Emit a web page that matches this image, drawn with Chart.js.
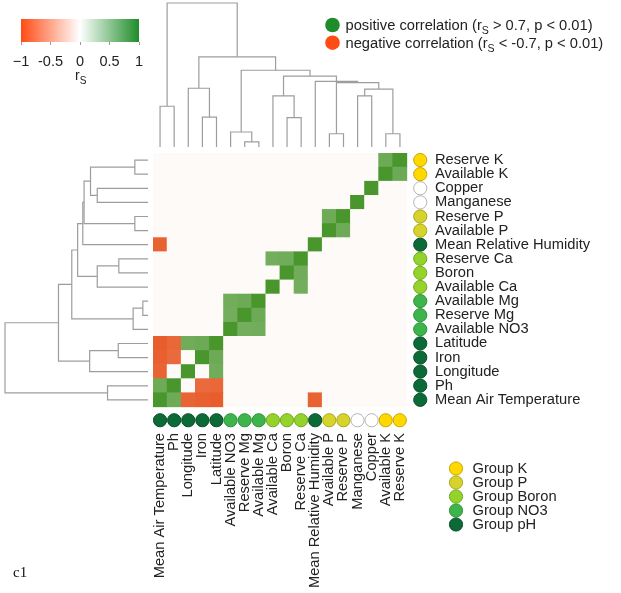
<!doctype html>
<html>
	<head>
		<meta charset="utf-8" />
		<title>Spearman correlation heatmap with dendrograms</title>
		<script src="https://cdn.jsdelivr.net/npm/chart.js@4.4.1/dist/chart.umd.min.js"></script>
		<style>
			html,
			body {
				margin: 0;
				padding: 0;
				background: #fff;
			}
			#page {
				position: relative;
				width: 621px;
				height: 593px;
				overflow: hidden;
			}
			canvas {
				position: absolute;
			}
			#heat { left: 0; top: 0; }
			#dendTop { left: 153px; top: 0; }
			#dendLeft { left: 0; top: 153px; }
			#scaleBar { left: 0; top: 0; }
		</style>
	</head>

	<body>
		<div id="page">
			<canvas id="heat" width="621" height="593"></canvas>
			<canvas id="dendTop" width="254" height="150"></canvas>
			<canvas id="dendLeft" width="153" height="254"></canvas>
			<canvas id="scaleBar" width="160" height="95"></canvas>
		</div>

		<script>
			const FONT = '"Liberation Sans", Arial, Helvetica, sans-serif';
			const TEXT_COLOR = "#222";
			const DEND_COLOR = "#9d9d9d";
			const LABEL_SIZE = 14.7;

			// variables in dendrogram leaf order, left to right along the columns
			const colNames = [
				"Mean Air Temperature", "Ph", "Longitude", "Iron", "Latitude",
				"Available NO3", "Reserve Mg", "Available Mg",
				"Available Ca", "Boron", "Reserve Ca",
				"Mean Relative Humidity", "Available P", "Reserve P",
				"Manganese", "Copper", "Available K", "Reserve K",
			];
			const colGroups = [
				"pH", "pH", "pH", "pH", "pH",
				"NO3", "NO3", "NO3",
				"Boron", "Boron", "Boron",
				"pH", "P", "P",
				"none", "none", "K", "K",
			];
			// rows run the other way (top to bottom)
			const rowNames = colNames.slice().reverse();

			// significant Spearman correlations (|rs| > 0.7, p < 0.01); everything else is blank
			const sigPairs = [
				["Mean Air Temperature", "Ph", 0.79],
				["Mean Air Temperature", "Longitude", -0.86],
				["Mean Air Temperature", "Iron", -0.88],
				["Mean Air Temperature", "Latitude", -0.9],
				["Mean Air Temperature", "Mean Relative Humidity", -0.87],
				["Ph", "Iron", -0.82],
				["Ph", "Latitude", -0.84],
				["Longitude", "Latitude", 0.78],
				["Iron", "Latitude", 0.8],
				["Available NO3", "Reserve Mg", 0.76],
				["Available NO3", "Available Mg", 0.77],
				["Reserve Mg", "Available Mg", 0.8],
				["Available Ca", "Reserve Ca", 0.76],
				["Boron", "Reserve Ca", 0.78],
				["Available P", "Reserve P", 0.79],
				["Available K", "Reserve K", 0.8],
			];

			// hclust style merge table: negative = leaf (1-based column), positive = earlier merge
			const dendMerge = [
				[-7, -8], [-13, -14], [-17, -18], [-6, 1], [-10, -11], [-4, -5],
				[-1, -2], [-9, 5], [-15, -16], [9, 3], [-3, 6], [2, 10],
				[-12, 12], [8, 13], [4, 14], [11, 15], [7, 16],
			];
			const dendHeight = [
				0.036, 0.092, 0.092, 0.104, 0.204, 0.208,
				0.283, 0.355, 0.355, 0.402, 0.408, 0.447,
				0.456, 0.492, 0.533, 0.626, 1.0,
			];

			const scaleStops = [[-1, "#ff4b14"], [0, "#ffffff"], [1, "#1e8c28"]];
			const scaleTicks = [-1, -0.5, 0, 0.5, 1];

			const groupOrder = ["K", "P", "Boron", "NO3", "pH"];
			const groupLabels = ["Group K", "Group P", "Group Boron", "Group NO3", "Group pH"];
			const groupFill = {
				K: "#ffd800", P: "#d6d42c", Boron: "#94d22c",
				NO3: "#3db54b", pH: "#0c6a37", none: "#ffffff",
			};
			const groupEdge = {
				K: "#c9a600", P: "#a9a61e", Boron: "#72a91f",
				NO3: "#2e8f3a", pH: "#084f29", none: "#b4b4b4",
			};

			const corrKeyItems = [
				{ color: "#1e8c28", parts: ["positive correlation (r", "S", " > 0.7, p < 0.01)"] },
				{ color: "#ff4b14", parts: ["negative correlation (r", "S", " < -0.7, p < 0.01)"] },
			];

			// ---- correlation matrix from the pairs
			const n = colNames.length;
			const corr = colNames.map((_, i) => colNames.map((_, j) => (i === j ? 1 : 0)));
			sigPairs.forEach(([a, b, r]) => {
				const i = colNames.indexOf(a),
					j = colNames.indexOf(b);
				corr[i][j] = corr[j][i] = r;
			});

			const blank = [253, 250, 248],
				posEnd = [72, 150, 44],
				negEnd = [229, 75, 20];
			function mix(c0, c1, t) {
				return "rgb(" + c0.map((v, k) => Math.round(v + (c1[k] - v) * t)).join(",") + ")";
			}
			function cellColor(v) {
				return v >= 0 ? mix(blank, posEnd, v) : mix(blank, negEnd, -v);
			}

			// text with a subscript in the middle (r_S)
			function drawParts(ctx, parts, x, y, size) {
				parts.forEach((t, k) => {
					const sub = k === 1;
					ctx.font = (sub ? size * 0.72 : size) + "px " + FONT;
					ctx.fillText(t, x, sub ? y + size * 0.28 : y);
					x += ctx.measureText(t).width;
				});
			}

			const keysPlugin = {
				id: "keys",
				afterDraw(chart) {
					const ctx = chart.ctx;
					ctx.save();
					ctx.fillStyle = TEXT_COLOR;
					ctx.textBaseline = "alphabetic";

					corrKeyItems.forEach((item, k) => {
						const cy = 25 + k * 17.7;
						ctx.beginPath();
						ctx.arc(332.5, cy, 7.3, 0, Math.PI * 2);
						ctx.fillStyle = item.color;
						ctx.fill();
						ctx.fillStyle = TEXT_COLOR;
						drawParts(ctx, item.parts, 345.5, cy + 5, LABEL_SIZE);
					});

					groupOrder.forEach((g, k) => {
						const cy = 468.5 + k * 14;
						ctx.beginPath();
						ctx.arc(456, cy, 6.6, 0, Math.PI * 2);
						ctx.fillStyle = groupFill[g];
						ctx.fill();
						ctx.lineWidth = 1;
						ctx.strokeStyle = groupEdge[g];
						ctx.stroke();
						ctx.fillStyle = TEXT_COLOR;
						ctx.font = LABEL_SIZE + "px " + FONT;
						ctx.textBaseline = "middle";
						ctx.fillText(groupLabels[k], 472.5, cy + 0.5);
						ctx.textBaseline = "alphabetic";
					});

					ctx.font = '15px "Liberation Serif", "Times New Roman", serif';
					ctx.fillStyle = "#111";
					ctx.fillText("c1", 13, 577);
					ctx.restore();
				},
			};

			// ---- heatmap
			const cells = [];
			rowNames.forEach((rn, r) => {
				const ri = colNames.indexOf(rn);
				colNames.forEach((cn, c) => {
					cells.push({ x: c, y: [r - 0.5, r + 0.5], v: corr[ri][c] });
				});
			});

			const CIRCLE_POS = 18.45;
			const circleSets = groupOrder.concat(["none"]).map((g) => {
				const pts = [];
				colGroups.forEach((cg, c) => {
					if (cg !== g) return;
					pts.push({ x: c, y: CIRCLE_POS });
					pts.push({ x: CIRCLE_POS, y: n - 1 - c });
				});
				return {
					type: "scatter",
					label: g,
					data: pts,
					pointRadius: 6.6,
					pointStyle: "circle",
					backgroundColor: groupFill[g],
					borderColor: groupEdge[g],
					borderWidth: 1,
					order: 1,
				};
			});

			const labelFont = { family: FONT, size: LABEL_SIZE };

			new Chart(document.getElementById("heat"), {
				type: "bar",
				data: {
					datasets: [
						{
							type: "bar",
							data: cells,
							backgroundColor: (ctx) => cellColor(ctx.raw.v),
							borderWidth: 0,
							grouped: false,
							barPercentage: 1,
							categoryPercentage: 1,
							order: 2,
						},
						...circleSets,
					],
				},
				options: {
					responsive: false,
					animation: false,
					events: [],
					layout: { padding: { left: 153, top: 153 } },
					plugins: { legend: { display: false }, tooltip: { enabled: false } },
					scales: {
						x: {
							type: "linear",
							position: "bottom",
							min: -0.5,
							max: 19,
							offset: false,
							grid: { display: false, drawTicks: false, offset: false },
							border: { display: false },
							afterBuildTicks: (a) => {
								a.ticks = colNames.map((_, i) => ({ value: i }));
							},
							afterFit: (a) => {
								a.height = 165;
							},
							ticks: {
								autoSkip: false,
								minRotation: 90,
								maxRotation: 90,
								padding: 5,
								color: TEXT_COLOR,
								font: labelFont,
								callback: (v, i) => colNames[i],
							},
						},
						y: {
							type: "linear",
							position: "right",
							reverse: true,
							min: -0.5,
							max: 19,
							grid: { display: false, drawTicks: false },
							border: { display: false },
							afterBuildTicks: (a) => {
								a.ticks = rowNames.map((_, i) => ({ value: i }));
							},
							afterFit: (a) => {
								a.width = 193;
							},
							ticks: {
								autoSkip: false,
								padding: 7,
								color: TEXT_COLOR,
								font: labelFont,
								callback: (v, i) => rowNames[i],
							},
						},
					},
				},
				plugins: [keysPlugin],
			});

			// ---- dendrograms (same tree for rows and columns)
			function dendLinks() {
				const nodes = [];
				const kid = (k) => (k < 0 ? { p: -k - 1, h: 0 } : nodes[k - 1]);
				return dendMerge.map(([a, b], m) => {
					const l = kid(a),
						r = kid(b),
						h = dendHeight[m];
					nodes.push({ p: (l.p + r.p) / 2, h });
					return { l, r, h };
				});
			}
			const links = dendLinks();

			function dendDataset(points) {
				return {
					data: points,
					showLine: true,
					pointRadius: 0,
					borderColor: DEND_COLOR,
					borderWidth: 1.2,
					clip: false,
				};
			}

			const quietOptions = {
				responsive: false,
				animation: false,
				events: [],
				plugins: { legend: { display: false }, tooltip: { enabled: false } },
			};

			new Chart(document.getElementById("dendTop"), {
				type: "scatter",
				data: {
					datasets: links.map(({ l, r, h }) =>
						dendDataset([
							{ x: l.p, y: l.h },
							{ x: l.p, y: h },
							{ x: r.p, y: h },
							{ x: r.p, y: r.h },
						]),
					),
				},
				options: {
					...quietOptions,
					layout: { padding: { top: 3, bottom: 3 } },
					scales: {
						x: { type: "linear", display: false, min: -0.5, max: n - 0.5 },
						y: { type: "linear", display: false, min: 0, max: 1 },
					},
				},
			});

			new Chart(document.getElementById("dendLeft"), {
				type: "scatter",
				data: {
					datasets: links.map(({ l, r, h }) =>
						dendDataset([
							{ x: l.h, y: n - 1 - l.p },
							{ x: h, y: n - 1 - l.p },
							{ x: h, y: n - 1 - r.p },
							{ x: r.h, y: n - 1 - r.p },
						]),
					),
				},
				options: {
					...quietOptions,
					layout: { padding: { left: 5, right: 5 } },
					scales: {
						x: { type: "linear", display: false, reverse: true, min: 0, max: 1 },
						y: { type: "linear", display: false, reverse: true, min: -0.5, max: n - 0.5 },
					},
				},
			});

			// ---- colour key for r_S
			function barGradient(chart) {
				const x = chart.scales.x;
				const area = chart.chartArea;
				if (!x || !area) return "#ffffff";
				const x0 = x.getPixelForValue(-1),
					x1 = x.getPixelForValue(1);
				if (!isFinite(x0) || !isFinite(x1) || x0 === x1) return "#ffffff";
				const g = chart.ctx.createLinearGradient(x0, 0, x1, 0);
				scaleStops.forEach(([v, c]) => g.addColorStop((v + 1) / 2, c));
				return g;
			}

			const rsTitle = {
				id: "rsTitle",
				afterDraw(chart) {
					const ctx = chart.ctx;
					ctx.save();
					ctx.fillStyle = TEXT_COLOR;
					ctx.textBaseline = "alphabetic";
					drawParts(ctx, ["r", "S"], chart.scales.x.getPixelForValue(0) - 5, 80, 14);
					ctx.restore();
				},
			};

			const barChart = new Chart(document.getElementById("scaleBar"), {
				type: "bar",
				data: {
					labels: ["rs"],
					datasets: [
						{
							data: [[scaleStops[0][0], scaleStops[scaleStops.length - 1][0]]],
							backgroundColor: (ctx) => barGradient(ctx.chart),
							borderWidth: 0,
							barPercentage: 1,
							categoryPercentage: 1,
						},
					],
				},
				options: {
					...quietOptions,
					indexAxis: "y",
					layout: { padding: { left: 21, right: 21, top: 19 } },
					scales: {
						x: {
							type: "linear",
							min: -1,
							max: 1,
							grid: { drawOnChartArea: false, drawTicks: true, tickLength: 3, color: "#999" },
							border: { display: false },
							afterBuildTicks: (a) => {
								a.ticks = scaleTicks.map((v) => ({ value: v }));
							},
							afterFit: (a) => {
								a.height = 53;
							},
							ticks: {
								autoSkip: false,
								minRotation: 0,
								maxRotation: 0,
								padding: 8,
								color: TEXT_COLOR,
								font: { family: FONT, size: 14.5 },
								callback: (v) => (v === -1 ? "\u22121" : String(v)),
							},
						},
						y: { display: false },
					},
				},
				plugins: [rsTitle],
			});
			// second pass so the gradient is built once the scale has its pixels
			barChart.update();
		</script>
	</body>
</html>
